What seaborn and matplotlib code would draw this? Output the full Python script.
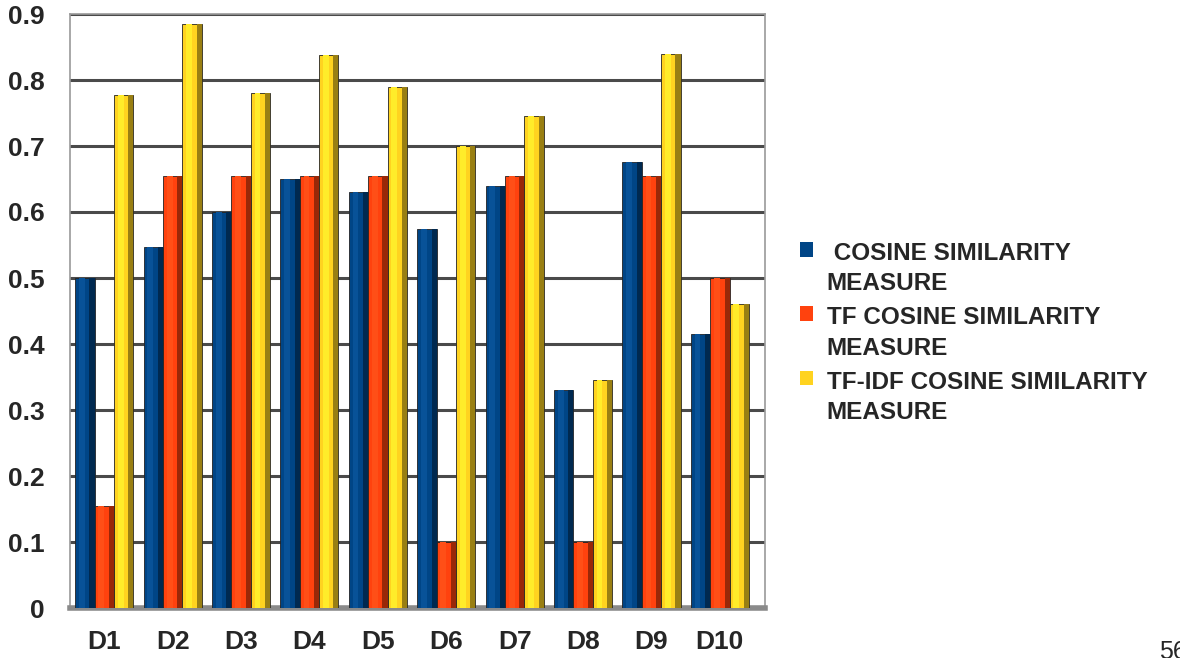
import numpy as np
import pandas as pd
import seaborn as sns
import matplotlib.pyplot as plt

docs = ["D1", "D2", "D3", "D4", "D5", "D6", "D7", "D8", "D9", "D10"]
cosine = [0.50, 0.547, 0.60, 0.65, 0.63, 0.575, 0.64, 0.33, 0.675, 0.415]
tf_cosine = [0.155, 0.655, 0.655, 0.655, 0.655, 0.10, 0.655, 0.10, 0.655, 0.50]
tfidf_cosine = [0.778, 0.885, 0.78, 0.838, 0.79, 0.70, 0.745, 0.345, 0.84, 0.46]
series = [" COSINE SIMILARITY\nMEASURE", "TF COSINE SIMILARITY\nMEASURE",
          "TF-IDF COSINE SIMILARITY\nMEASURE"]
colors = ["#004586", "#ff420e", "#ffd320"]

df = pd.DataFrame({"doc": docs * 3,
                   "value": cosine + tf_cosine + tfidf_cosine,
                   "measure": [series[0]] * 10 + [series[1]] * 10 + [series[2]] * 10})

sns.set_style("white")
plt.rcParams['font.family'] = ['Liberation Sans', 'DejaVu Sans']

fig = plt.figure(figsize=(11.8, 6.58), dpi=100)
ax = fig.add_axes([70 / 1180, 1 - 608 / 658, 695 / 1180, 594 / 658])

ax = sns.barplot(data=df, x="doc", y="value", hue="measure", palette=colors,
                 width=0.85, ax=ax, edgecolor="#222222", linewidth=0.6,
                 saturation=1, zorder=3)

# darker right side / lighter middle on each bar, a rough hint of the cylinder look
for patch in list(ax.patches):
    if patch.get_height() <= 0:
        continue
    x0, w, h = patch.get_x(), patch.get_width(), patch.get_height()
    base = np.array(patch.get_facecolor()[:3])
    ax.add_patch(plt.Rectangle((x0 + w * 0.74, 0), w * 0.26, h, color=base * 0.6,
                               zorder=3.5, lw=0))
    ax.add_patch(plt.Rectangle((x0 + w * 0.2, 0), w * 0.3, h,
                               color=np.minimum(base * 1.08 + 0.03, 1), zorder=3.4, lw=0))

ax.set_ylim(0, 0.9)
ax.set_xlim(-0.5, 9.66)
ax.set_yticks(np.arange(0, 0.91, 0.1))
ax.set_yticklabels(["0"] + ["%.1f" % v for v in np.arange(0.1, 0.91, 0.1)])
ax.yaxis.grid(True, color="#4a4a4a", linewidth=2.2, zorder=1)
ax.set_axisbelow(True)
ax.set_xlabel("")
ax.set_ylabel("")
for s in ["top", "right", "left"]:
    ax.spines[s].set_color("#9a9a9a")
    ax.spines[s].set_linewidth(1.2)
ax.spines["bottom"].set_color("#8a8a8a")
ax.spines["bottom"].set_linewidth(4)

ax.tick_params(axis="y", length=6, width=1, color="#9a9a9a", pad=12, labelsize=19)
ax.tick_params(axis="x", length=0, pad=16, labelsize=19)
for lab in ax.get_xticklabels() + ax.get_yticklabels():
    lab.set_fontweight("bold")

handles, labels = ax.get_legend_handles_labels()
leg = ax.legend(handles, labels, loc="center left",
                bbox_to_anchor=(778 / 1180, 1 - 333 / 658), bbox_transform=fig.transFigure,
                frameon=False, handlelength=0.55, handleheight=0.55,
                handletextpad=0.55, labelspacing=0.45,
                prop={"size": 17.5, "weight": "bold"})
for h in leg.legend_handles:
    h.set_edgecolor("none")
for t in leg.get_texts():
    t.set_linespacing(1.4)
# square next to the first line of each label, as in the original
for col in leg._legend_handle_box.get_children():
    for row in col.get_children():
        row.align = "top"

fig.text(1159 / 1180, -6 / 658, "56", fontsize=18, ha="left", va="bottom")

fig.savefig("out.png", dpi=100)
